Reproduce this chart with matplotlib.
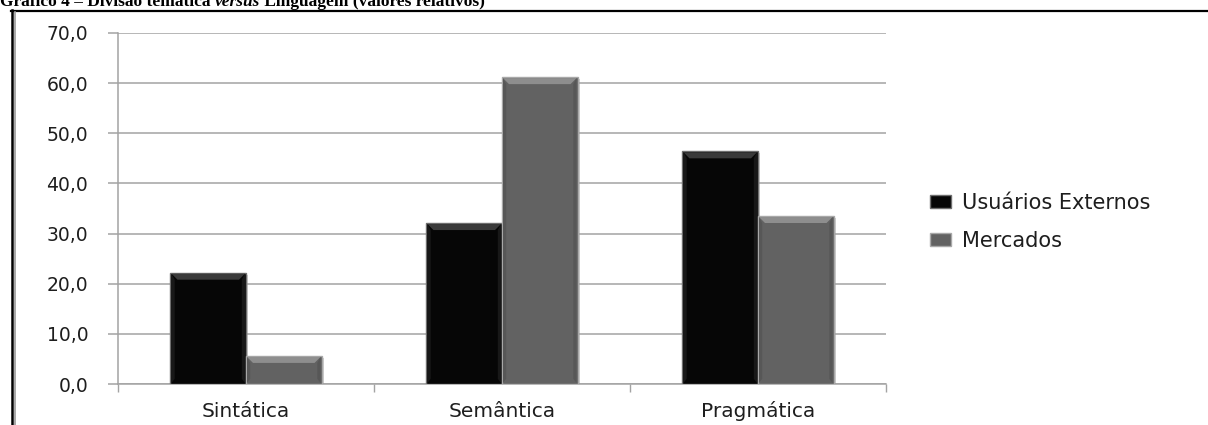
import matplotlib
matplotlib.use("Agg")
import matplotlib.pyplot as plt
from matplotlib.patches import Polygon, Patch
from matplotlib.lines import Line2D
import matplotlib.patheffects as pe

# Relative values (%) per thematic division and language group
categories = ["Sintática", "Semântica", "Pragmática"]
usuarios_externos = [22.2, 32.1, 46.4]
mercados = [5.6, 61.2, 33.5]
series_names = ["Usuários Externos", "Mercados"]
y_ticks = [0, 10, 20, 30, 40, 50, 60, 70]
title_parts = [("Gráfico 4 – Divisão temática ", "normal"),
               ("versus", "italic"),
               (" Linguagem (valores relativos)", "normal")]

W, H = 1208, 425
fig = plt.figure(figsize=(W / 100, H / 100), dpi=100)
fig.patch.set_facecolor("white")

ax = fig.add_axes([118 / W, 1 - 384 / H, 768 / W, 351 / H])
grid_col = "#a3a3a3"
text_col = "#1e1e1e"

x = list(range(len(categories)))
bw = 0.295
ax.set_xlim(-0.5, len(categories) - 0.5)
ax.set_ylim(0, 70)

styles = [
    dict(face="#060606", edge="#6e6e6e", top="#3a3a3a", side="#181818"),
    dict(face="#626262", edge="#a8a8a8", top="#8e8e8e", side="#575757"),
]

shadow = [pe.SimplePatchShadow(offset=(1.5, -1.5), shadow_rgbFace="#999999", alpha=0.45), pe.Normal()]

bar_groups = []
for i, (vals, st) in enumerate(zip([usuarios_externos, mercados], styles)):
    offs = (i - 0.5) * bw
    bars = ax.bar([xi + offs for xi in x], vals, width=bw, color=st["face"],
                  edgecolor=st["edge"], linewidth=1.0, zorder=3)
    for b in bars:
        b.set_path_effects(shadow)
    bar_groups.append((bars, st))

# bevel bands derived from each bar's own rectangle
fig.canvas.draw()
bbox = ax.get_window_extent()
ux = (ax.get_xlim()[1] - ax.get_xlim()[0]) / bbox.width
uy = (ax.get_ylim()[1] - ax.get_ylim()[0]) / bbox.height
bev = 7
dx, dy = bev * ux, bev * uy
for bars, st in bar_groups:
    for b in bars:
        x0, w, h = b.get_x(), b.get_width(), b.get_height()
        x1 = x0 + w
        top = [(x0 + ux, h - uy), (x1 - ux, h - uy), (x1 - dx, h - dy), (x0 + dx, h - dy)]
        ax.add_patch(Polygon(top, closed=True, facecolor=st["top"], edgecolor="none", zorder=4))
        right = [(x1 - ux, h - uy), (x1 - ux, uy), (x1 - dx * 0.6, uy + dy * 0.6), (x1 - dx * 0.6, h - dy)]
        ax.add_patch(Polygon(right, closed=True, facecolor=st["side"], edgecolor="none", zorder=4))
        left = [(x0 + ux, h - uy), (x0 + ux, uy), (x0 + dx * 0.6, uy + dy * 0.6), (x0 + dx * 0.6, h - dy)]
        ax.add_patch(Polygon(left, closed=True, facecolor=st["side"], edgecolor="none", zorder=4))

# axes styling
ax.set_yticks(y_ticks)
ax.set_yticklabels([f"{v:.1f}".replace(".", ",") for v in y_ticks])
ax.yaxis.grid(True, color=grid_col, linewidth=1.1, zorder=0)
ax.set_axisbelow(True)
ax.set_xticks([v + 0.5 for v in [-1] + x])
ax.set_xticklabels([])
ax.set_xticks(x, minor=True)
ax.set_xticklabels(categories, minor=True)
ax.tick_params(axis="x", which="major", direction="out", length=6, width=1, color=grid_col)
ax.tick_params(axis="x", which="minor", length=0, pad=24, labelsize=14.5, labelcolor=text_col)
for lbl in ax.get_xticklabels(minor=True):
    lbl.set_verticalalignment("baseline")
ax.tick_params(axis="y", direction="out", length=7.5, width=1.1, color=grid_col, pad=14,
               labelsize=13.5, labelcolor=text_col)
for side in ("top", "right"):
    ax.spines[side].set_visible(False)
for side in ("left", "bottom"):
    ax.spines[side].set_color(grid_col)
    ax.spines[side].set_linewidth(1.1)

# legend
handles = [Patch(facecolor=st["face"], edgecolor=st["edge"]) for st in styles]
fig.legend(handles, series_names, loc="center left", bbox_to_anchor=(930 / W, 1 - 222 / H),
           frameon=False, fontsize=15, handlelength=1.0, handleheight=0.6,
           handletextpad=0.55, labelspacing=0.85, borderpad=0, borderaxespad=0,
           labelcolor=text_col)

# document frame around the chart
fig.add_artist(Line2D([11 / W, 1.0], [1 - 10.5 / H, 1 - 10.5 / H], color="black", linewidth=1.6))
fig.add_artist(Line2D([12 / W, 12 / W], [1 - 10 / H, 0], color="black", linewidth=1.8))
fig.add_artist(Line2D([14.8 / W, 14.8 / W], [1 - 12 / H, 0], color="#9a9a9a", linewidth=1.2))

# caption above the frame, in pieces so that "versus" is italic
renderer = fig.canvas.get_renderer()
xpos = 0.0
for txt, style in title_parts:
    t = fig.text(xpos, 1 - 6 / H, txt, ha="left", va="baseline",
                 fontfamily="Liberation Serif", fontweight="bold", fontstyle=style, fontsize=12.5)
    ext = t.get_window_extent(renderer=renderer)
    xpos = ext.x1 / fig.bbox.width

fig.savefig("out.png", dpi=100, facecolor="white")
